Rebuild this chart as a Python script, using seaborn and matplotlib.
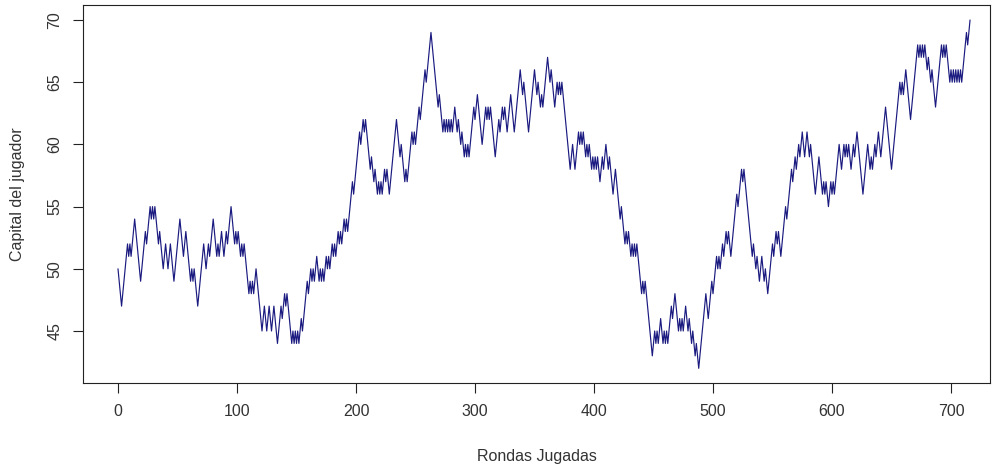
import matplotlib
matplotlib.use("Agg")
import matplotlib.pyplot as plt
import seaborn as sns
import pandas as pd

# Capital of the player after each round
capital = [
    50, 49, 48, 47, 48, 49, 50, 51, 52, 51, 52, 51, 52, 53, 54, 53, 52, 51, 50, 49,
    50, 51, 52, 53, 52, 53, 54, 55, 54, 55, 54, 55, 54, 53, 52, 53, 52, 51, 50, 51,
    52, 51, 50, 51, 52, 51, 50, 49, 50, 51, 52, 53, 54, 53, 52, 51, 52, 53, 52, 51,
    50, 49, 50, 49, 50, 49, 48, 47, 48, 49, 50, 51, 52, 51, 50, 51, 52, 51, 52, 53,
    54, 53, 52, 51, 52, 51, 52, 53, 52, 51, 52, 53, 52, 53, 54, 55, 54, 53, 52, 53,
    52, 53, 52, 51, 52, 51, 52, 51, 50, 49, 48, 49, 48, 49, 48, 49, 50, 49, 48, 47,
    46, 45, 46, 47, 46, 45, 46, 47, 46, 45, 46, 47, 46, 45, 44, 45, 46, 47, 46, 47,
    48, 47, 48, 47, 46, 45, 44, 45, 44, 45, 44, 45, 44, 45, 46, 45, 46, 47, 48, 49,
    48, 49, 50, 49, 50, 49, 50, 51, 50, 49, 50, 49, 50, 49, 50, 51, 50, 51, 50, 51,
    52, 51, 52, 51, 52, 53, 52, 53, 52, 53, 54, 53, 54, 53, 54, 55, 56, 57, 56, 57,
    58, 59, 60, 61, 60, 61, 62, 61, 62, 61, 60, 59, 58, 59, 58, 57, 58, 57, 56, 57,
    56, 57, 56, 57, 58, 57, 58, 57, 56, 57, 58, 59, 60, 61, 62, 61, 60, 59, 60, 59,
    58, 57, 58, 57, 58, 59, 60, 61, 60, 61, 60, 61, 62, 63, 62, 63, 64, 65, 66, 65,
    66, 67, 68, 69, 68, 67, 66, 65, 64, 63, 64, 63, 62, 61, 62, 61, 62, 61, 62, 61,
    62, 61, 62, 63, 62, 61, 62, 61, 60, 61, 60, 59, 60, 59, 60, 59, 60, 61, 62, 63,
    62, 63, 64, 63, 62, 61, 60, 61, 62, 63, 62, 63, 62, 63, 62, 61, 60, 59, 60, 61,
    62, 61, 62, 63, 62, 63, 62, 61, 62, 63, 64, 63, 62, 61, 62, 63, 64, 65, 66, 65,
    64, 65, 64, 63, 62, 61, 62, 63, 64, 65, 66, 65, 64, 65, 64, 63, 64, 63, 64, 65,
    66, 67, 66, 65, 66, 65, 64, 63, 64, 65, 64, 65, 64, 65, 64, 63, 62, 61, 60, 59,
    58, 59, 60, 59, 58, 59, 60, 61, 60, 61, 60, 61, 60, 59, 60, 59, 60, 59, 58, 59,
    58, 59, 58, 59, 58, 57, 58, 59, 58, 59, 60, 59, 58, 59, 58, 57, 56, 57, 58, 57,
    56, 55, 54, 55, 54, 53, 52, 53, 52, 53, 52, 51, 52, 51, 52, 51, 52, 51, 50, 49,
    48, 49, 48, 49, 48, 47, 46, 45, 44, 43, 44, 45, 44, 45, 44, 45, 46, 45, 44, 45,
    44, 45, 44, 45, 46, 47, 46, 47, 48, 47, 46, 45, 46, 45, 46, 45, 46, 47, 46, 45,
    46, 45, 44, 45, 44, 43, 44, 43, 42, 43, 44, 45, 46, 47, 48, 47, 46, 47, 48, 49,
    48, 49, 50, 51, 50, 51, 50, 51, 52, 51, 52, 53, 52, 53, 52, 51, 52, 53, 54, 55,
    56, 55, 56, 57, 58, 57, 58, 57, 56, 55, 54, 53, 52, 51, 52, 51, 50, 51, 50, 49,
    50, 51, 50, 49, 50, 49, 48, 49, 50, 51, 52, 51, 52, 53, 52, 53, 52, 51, 52, 53,
    54, 55, 54, 55, 56, 57, 58, 57, 58, 59, 58, 59, 60, 59, 60, 61, 60, 59, 60, 61,
    60, 59, 60, 59, 58, 57, 56, 57, 58, 59, 58, 57, 56, 57, 56, 57, 56, 55, 56, 57,
    56, 57, 56, 57, 58, 59, 60, 59, 58, 59, 60, 59, 60, 59, 60, 59, 58, 59, 60, 59,
    60, 61, 60, 59, 58, 57, 56, 57, 58, 59, 60, 59, 58, 59, 58, 59, 60, 59, 60, 61,
    60, 59, 60, 61, 62, 63, 62, 61, 60, 59, 58, 59, 60, 61, 62, 63, 64, 65, 64, 65,
    64, 65, 66, 65, 64, 63, 62, 63, 64, 65, 66, 67, 68, 67, 68, 67, 68, 67, 68, 67,
    66, 67, 66, 65, 66, 65, 64, 63, 64, 65, 66, 67, 68, 67, 68, 67, 68, 67, 66, 65,
    66, 65, 66, 65, 66, 65, 66, 65, 66, 65, 66, 67, 68, 69, 68, 69, 70,
]
rounds = list(range(len(capital)))

x_ticks = [0, 100, 200, 300, 400, 500, 600, 700]
y_ticks = [45, 50, 55, 60, 65, 70]

x_label = "Rondas Jugadas"
y_label = "Capital del jugador"

sns.set_style("white")
plt.rcParams["font.family"] = ["Liberation Sans", "DejaVu Sans"]

W, H = 993, 468
fig = plt.figure(figsize=(W / 100, H / 100), dpi=100)
# axes box in pixel coordinates (left, right, top, bottom)
L, R, T, B = 83, 990, 5, 383
ax = fig.add_axes([L / W, 1 - B / H, (R - L) / W, (B - T) / H])

df = pd.DataFrame({"ronda": rounds, "capital": capital})
sns.lineplot(data=df, x="ronda", y="capital", ax=ax, color="#1a1a80",
             linewidth=0.85, estimator=None)

# pixel calibration: x=0 -> 118px, x=700 -> 951px ; y=70 -> 20px, y=45 -> 331px
sx = (951 - 118) / 700.0
ax.set_xlim((L - 118) / sx, (R - 118) / sx)
sy = (331 - 20) / 25.0
ax.set_ylim(45 - (B - 331) / sy, 70 + (20 - T) / sy)

ax.set_xticks(x_ticks)
ax.set_yticks(y_ticks)
ax.set_xticklabels([str(v) for v in x_ticks])
ax.set_yticklabels([str(v) for v in y_ticks], rotation=90, va="center")

ax.tick_params(axis="both", direction="out", length=7, width=0.8,
               color="#222222", labelcolor="#333333", labelsize=11.5,
               bottom=True, left=True)
ax.tick_params(axis="x", pad=8)
ax.tick_params(axis="y", pad=8)

for s in ax.spines.values():
    s.set_visible(True)
    s.set_color("#222222")
    s.set_linewidth(0.8)

ax.set_xlabel(x_label, fontsize=11.5, color="#333333", labelpad=22)
ax.set_ylabel(y_label, fontsize=11.5, color="#333333", labelpad=16)
ax.grid(False)

fig.savefig("out.png", dpi=100, facecolor="white")
